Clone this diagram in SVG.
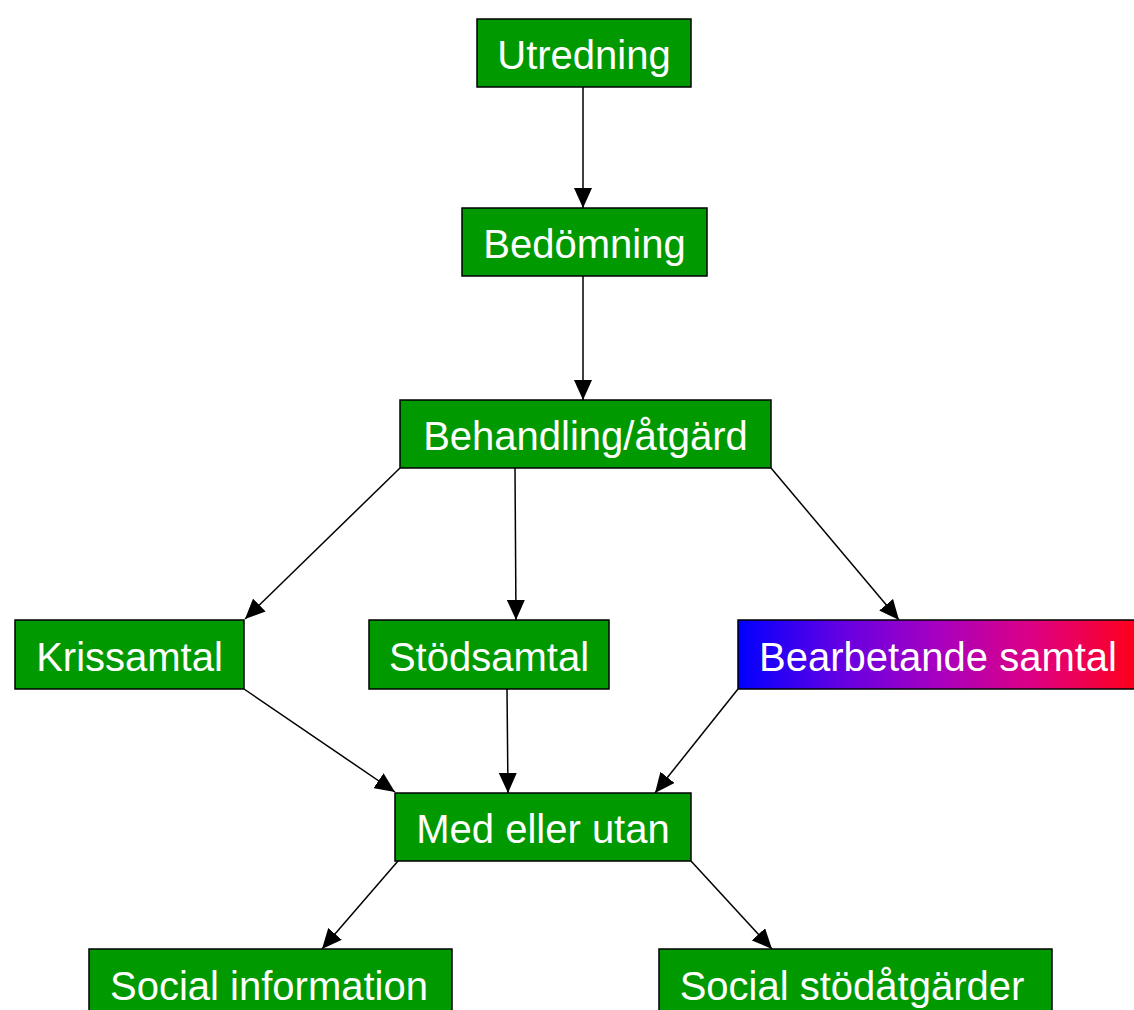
<svg xmlns="http://www.w3.org/2000/svg" width="1134" height="1010" viewBox="0 0 1134 1010">
<style>
.box{fill:#009900;stroke:#000;stroke-width:1.5}
.lbl{font-family:"Liberation Sans",Arial,sans-serif;font-size:40px;fill:#fff;text-anchor:middle}
.edge{stroke:#000;stroke-width:1.5;fill:none;marker-end:url(#ah)}
</style>
<defs>
<marker id="ah" markerUnits="userSpaceOnUse" markerWidth="22" markerHeight="18" refX="20" refY="9" orient="auto">
<path d="M0,0 L20,9 L0,18 Z" fill="#000"/>
</marker>
<linearGradient id="bg" x1="0" y1="0" x2="1" y2="0">
<stop offset="0" stop-color="#0000ff"/>
<stop offset="0.25" stop-color="#6200e4"/>
<stop offset="0.5" stop-color="#a800c0"/>
<stop offset="0.75" stop-color="#e00080"/>
<stop offset="1" stop-color="#ff0018"/>
</linearGradient>
</defs>
<rect width="1134" height="1010" fill="#fff"/>
<g id="connectors">
<line class="edge" x1="583" y1="87" x2="583" y2="208"/>
<line class="edge" x1="583" y1="276" x2="583" y2="400"/>
<line class="edge" x1="400" y1="468" x2="245" y2="619"/>
<line class="edge" x1="515" y1="468" x2="516" y2="620"/>
<line class="edge" x1="771" y1="468" x2="899" y2="620"/>
<line class="edge" x1="244" y1="689" x2="395" y2="792"/>
<line class="edge" x1="507" y1="689" x2="508" y2="793"/>
<line class="edge" x1="738" y1="689" x2="655" y2="793"/>
<line class="edge" x1="398" y1="861" x2="322" y2="949"/>
<line class="edge" x1="691" y1="861" x2="772" y2="949"/>
</g>
<g id="n1"><rect class="box" x="477" y="19" width="214" height="68"/><text class="lbl" x="584" y="69">Utredning</text></g>
<g id="n2"><rect class="box" x="462" y="208" width="245" height="68"/><text class="lbl" x="584.5" y="258">Bedömning</text></g>
<g id="n3"><rect class="box" x="400" y="400" width="371" height="68"/><text class="lbl" x="585.5" y="450">Behandling/åtgärd</text></g>
<g id="n4"><rect class="box" x="15" y="620" width="229" height="69"/><text class="lbl" x="129.5" y="671">Krissamtal</text></g>
<g id="n5"><rect class="box" x="369" y="620" width="240" height="69"/><text class="lbl" x="489" y="671">Stödsamtal</text></g>
<g id="n6"><rect class="box" x="738" y="620" width="400" height="69" style="fill:url(#bg)"/><text class="lbl" x="938" y="671">Bearbetande samtal</text></g>
<g id="n7"><rect class="box" x="395" y="793" width="296" height="68"/><text class="lbl" x="543" y="843">Med eller utan</text></g>
<g id="n8"><rect class="box" x="89" y="949" width="363" height="70"/><text class="lbl" x="269" y="1000">Social information</text></g>
<g id="n9"><rect class="box" x="659" y="949" width="393" height="70"/><text class="lbl" x="852" y="1000">Social stödåtgärder</text></g>
</svg>
